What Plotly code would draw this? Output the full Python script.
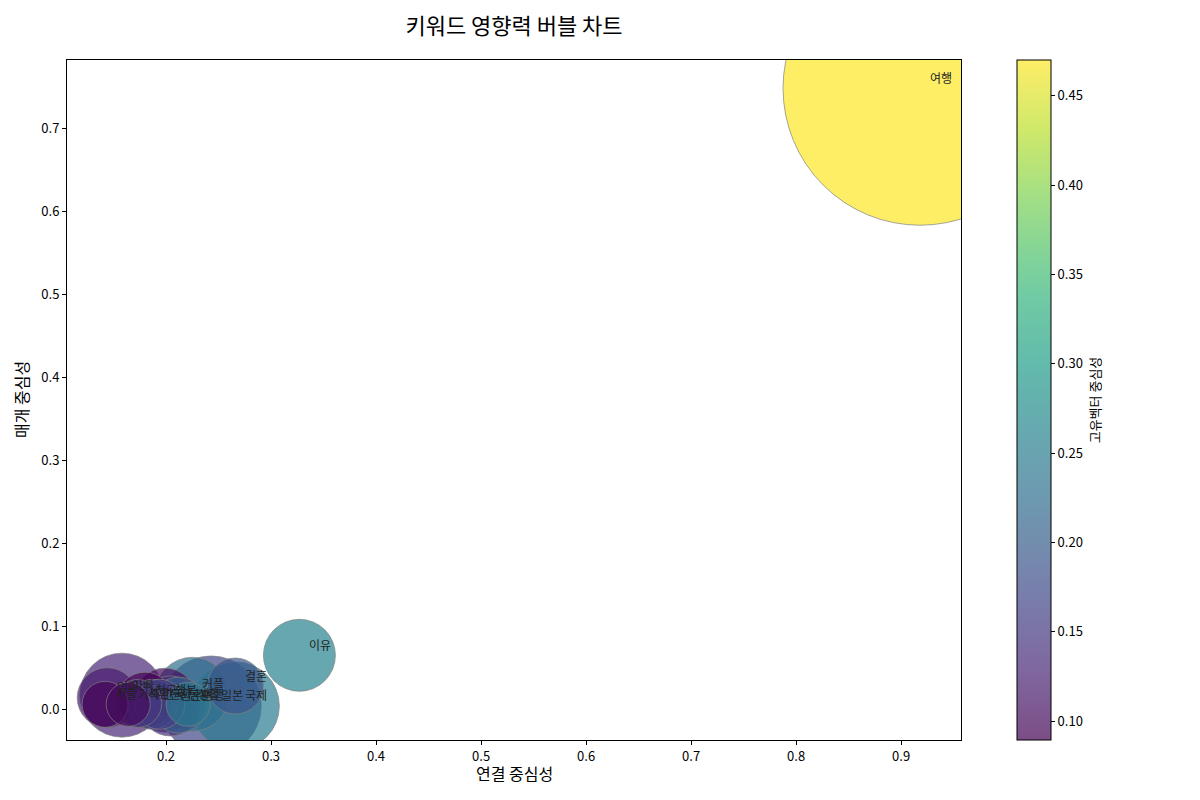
import plotly.graph_objects as go
from plotly.colors import sample_colorscale

# ---- data ----
keywords = ["여행", "이유", "결혼", "국제", "일본", "커플", "신혼여행", "남편", "행복",
            "한국", "친구", "사람", "아빠", "엄마", "서울", "가족", "문화", "생활"]
degree = [0.918, 0.327, 0.266, 0.266, 0.243, 0.225, 0.204, 0.212, 0.199,
          0.187, 0.180, 0.173, 0.158, 0.144, 0.142, 0.164, 0.194, 0.221]
betweenness = [0.748, 0.065, 0.028, 0.004, 0.004, 0.018, 0.004, 0.005, 0.011,
               0.006, 0.011, 0.007, 0.017, 0.014, 0.006, 0.006, 0.006, 0.006]
bubble = [274, 72, 56, 88, 100, 74, 60, 56, 64,
          50, 56, 48, 84, 60, 46, 44, 50, 44]
eigenvector = [0.470, 0.260, 0.190, 0.245, 0.170, 0.230, 0.140, 0.210, 0.100,
               0.170, 0.092, 0.150, 0.130, 0.120, 0.090, 0.100, 0.160, 0.240]

cmin, cmax = 0.0894, 0.470
ALPHA = 0.7


def to_rgb(c):
    c = c.strip()
    if c.startswith("#"):
        return int(c[1:3], 16), int(c[3:5], 16), int(c[5:7], 16)
    r, g, b = [float(v) for v in c[c.index("(") + 1:c.index(")")].split(",")[:3]]
    return r, g, b


norm = [(v - cmin) / (cmax - cmin) for v in eigenvector]
base_cols = sample_colorscale("Viridis", norm)
marker_cols = []
for c in base_cols:
    r, g, b = to_rgb(c)
    marker_cols.append(f"rgba({r:.0f},{g:.0f},{b:.0f},{ALPHA})")

# blended colorscale for colorbar (matches faded look)
stops = [i / 20 for i in range(21)]
cs = []
for s, c in zip(stops, sample_colorscale("Viridis", stops)):
    r, g, b = to_rgb(c)
    r2 = r * ALPHA + 255 * (1 - ALPHA)
    g2 = g * ALPHA + 255 * (1 - ALPHA)
    b2 = b * ALPHA + 255 * (1 - ALPHA)
    cs.append([s, f"rgb({r2:.0f},{g2:.0f},{b2:.0f})"])

FONT = "Noto Sans CJK KR"
W, H = 1200, 800
ML, MR, MT, MB = 59, 247, 52, 68

fig = go.Figure()
order = sorted(range(len(keywords)), key=lambda i: -bubble[i])
fig.add_trace(go.Scatter(
    x=[degree[i] for i in order],
    y=[betweenness[i] for i in order],
    mode="markers",
    marker=dict(size=[bubble[i] for i in order],
                color=[marker_cols[i] for i in order],
                opacity=1,
                line=dict(color="rgba(128,128,128,0.7)", width=1)),
    hoverinfo="skip",
    showlegend=False,
))
fig.add_trace(go.Scatter(
    x=[degree[0]], y=[betweenness[0]], mode="markers",
    marker=dict(size=0.1, color=[eigenvector[0]], colorscale=cs, cmin=cmin, cmax=cmax,
                opacity=0,
                colorbar=dict(
                    x=1.0626, xanchor="left", xref="paper", xpad=0, ypad=0,
                    y=0.5, yanchor="middle", len=680, lenmode="pixels",
                    thickness=34, outlinewidth=1, outlinecolor="black",
                    tickvals=[0.10, 0.15, 0.20, 0.25, 0.30, 0.35, 0.40, 0.45],
                    tickformat=".2f", ticks="outside", ticklen=4, tickcolor="black",
                    tickfont=dict(family=FONT, size=13, color="black"),
                    title=dict(text="고유벡터 중심성", side="right",
                               font=dict(family=FONT, size=13, color="black")),
                )),
    hoverinfo="skip", showlegend=False,
))

for k, xv, yv in zip(keywords, degree, betweenness):
    fig.add_annotation(x=xv, y=yv, text=k, showarrow=False, xanchor="left",
                       yanchor="middle", xshift=8, yshift=11,
                       font=dict(family=FONT, size=12, color="#222222"))

# axis titles placed as paper annotations
fig.add_annotation(x=0.5, y=-(765 - (H - MB)) / (H - MT - MB), xref="paper", yref="paper",
                   text="연결 중심성", showarrow=False, xanchor="center", yanchor="middle",
                   font=dict(family=FONT, size=16, color="black"))
fig.add_annotation(x=-(ML - 13) / (W - ML - MR), y=0.5, xref="paper", yref="paper",
                   text="매개 중심성", showarrow=False, xanchor="center", yanchor="middle",
                   textangle=-90, font=dict(family=FONT, size=16, color="black"))

axis_common = dict(showgrid=False, zeroline=False, showline=True, linecolor="black",
                   linewidth=1, mirror=True, ticks="outside", ticklen=4,
                   tickcolor="black", automargin=False,
                   tickfont=dict(family=FONT, size=13, color="black"))

fig.update_layout(
    width=W, height=H,
    margin=dict(l=ML, r=MR, t=MT, b=MB),
    paper_bgcolor="white", plot_bgcolor="white",
    title=dict(text="키워드 영향력 버블 차트", x=506 / W, xref="container", xanchor="center",
               y=1 - 18 / H, yref="container", yanchor="middle",
               font=dict(family=FONT, size=22, color="black")),
    xaxis=dict(range=[0.1057, 0.957],
               tickvals=[0.2, 0.3, 0.4, 0.5, 0.6, 0.7, 0.8, 0.9], tickformat=".1f",
               **axis_common),
    yaxis=dict(range=[-0.037, 0.782],
               tickvals=[0.0, 0.1, 0.2, 0.3, 0.4, 0.5, 0.6, 0.7], tickformat=".1f",
               **axis_common),
)

fig.write_html("out.html")
